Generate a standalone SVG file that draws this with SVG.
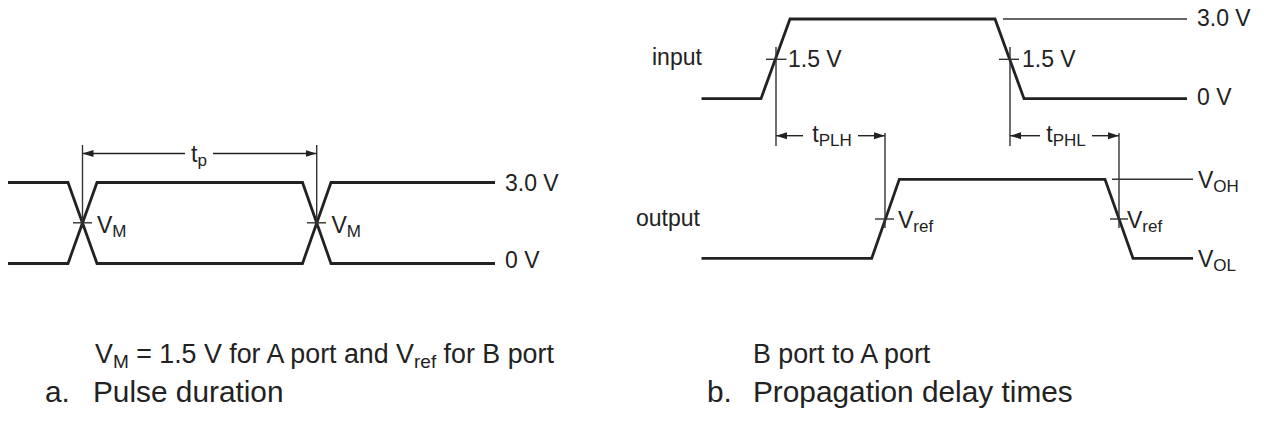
<svg xmlns="http://www.w3.org/2000/svg" width="1264" height="427" viewBox="0 0 1264 427">
<style>
text{font-family:"Liberation Sans",Arial,Helvetica,sans-serif;fill:#222}
.lbl{font-size:23px}
.sub{font-size:17px}
.cap1{font-size:26.8px}
.sub1{font-size:19px}
.cap2{font-size:29.8px}
.wave{fill:none;stroke:#222;stroke-width:2.8;stroke-linejoin:miter}
.thin{fill:none;stroke:#333;stroke-width:1.4}
.arr{fill:none;stroke:#222;stroke-width:1.4;marker-end:url(#ah)}
</style>
<defs>
<marker id="ah" markerWidth="11" markerHeight="8" refX="11" refY="4" orient="auto" markerUnits="userSpaceOnUse">
<path d="M0,0.5 L11,4 L0,7.5 z" fill="#222"/>
</marker>
</defs>
<rect width="1264" height="427" fill="#fff"/>

<g id="connectors">
<line class="arr" x1="185" y1="153.5" x2="82.5" y2="153.5"/>
<line class="arr" x1="213" y1="153.5" x2="316.5" y2="153.5"/>
<line class="arr" x1="803" y1="135.7" x2="776" y2="135.7"/>
<line class="arr" x1="858" y1="135.7" x2="885" y2="135.7"/>
<line class="arr" x1="1040" y1="135.7" x2="1010" y2="135.7"/>
<line class="arr" x1="1092" y1="135.7" x2="1119" y2="135.7"/>
</g>

<g id="pulse-waveform">
<path class="wave" d="M8,182.5 H68 L97,263.5 H302.5 L331,182.5 H495"/>
<path class="wave" d="M8,263.5 H68 L97,182.5 H302.5 L331,263.5 H495"/>
<line class="thin" x1="82.5" y1="145" x2="82.5" y2="228"/>
<line class="thin" x1="73" y1="222.8" x2="92" y2="222.8"/>
<line class="thin" x1="316.7" y1="145" x2="316.7" y2="228"/>
<line class="thin" x1="307" y1="222.8" x2="326" y2="222.8"/>
<text class="lbl" x="199" y="162" text-anchor="middle">t<tspan class="sub" dy="4">p</tspan></text>
<text class="lbl" x="97" y="233">V<tspan class="sub" dy="4">M</tspan></text>
<text class="lbl" x="331.5" y="233">V<tspan class="sub" dy="4">M</tspan></text>
<text class="lbl" x="505" y="191">3.0 V</text>
<text class="lbl" x="505" y="268">0 V</text>
</g>

<g id="input-waveform">
<text class="lbl" x="652" y="65">input</text>
<path class="wave" d="M701.5,98.7 H761 L790,19 H995 L1024,98.7 H1187"/>
<line class="thin" x1="1003" y1="19" x2="1187" y2="19"/>
<line class="thin" x1="776" y1="47" x2="776" y2="146"/>
<line class="thin" x1="766" y1="59.3" x2="786.5" y2="59.3"/>
<line class="thin" x1="1010" y1="47" x2="1010" y2="146"/>
<line class="thin" x1="999" y1="59.3" x2="1019" y2="59.3"/>
<text class="lbl" x="788" y="66.5">1.5 V</text>
<text class="lbl" x="1022" y="66.5">1.5 V</text>
<text class="lbl" x="1197" y="26">3.0 V</text>
<text class="lbl" x="1197" y="105">0 V</text>
</g>

<g id="output-waveform">
<text class="lbl" x="636" y="226">output</text>
<path class="wave" d="M701.5,258.3 H871.7 L899.3,179.3 H1105 L1133,258.3 H1193"/>
<line class="thin" x1="1112" y1="179.3" x2="1193" y2="179.3"/>
<line class="thin" x1="885" y1="133" x2="885" y2="228"/>
<line class="thin" x1="875" y1="219" x2="894" y2="219"/>
<line class="thin" x1="1119" y1="133" x2="1119" y2="228"/>
<line class="thin" x1="1110" y1="219" x2="1128" y2="219"/>
<text class="lbl" x="898" y="228">V<tspan class="sub" dy="4">ref</tspan></text>
<text class="lbl" x="1127" y="228">V<tspan class="sub" dy="4">ref</tspan></text>
<text class="lbl" x="1198" y="188">V<tspan class="sub" dy="4">OH</tspan></text>
<text class="lbl" x="1198" y="267">V<tspan class="sub" dy="4">OL</tspan></text>
</g>

<g id="delay-labels">
<text class="lbl" x="832" y="142" text-anchor="middle">t<tspan class="sub" dy="4">PLH</tspan></text>
<text class="lbl" x="1066" y="142" text-anchor="middle">t<tspan class="sub" dy="4">PHL</tspan></text>
</g>

<g id="captions">
<text class="cap1" x="95" y="363">V<tspan class="sub1" dy="5">M</tspan><tspan dy="-5"> = 1.5 V for A port and V</tspan><tspan class="sub1" dy="5">ref</tspan><tspan dy="-5"> for B port</tspan></text>
<text class="cap2" x="45" y="402">a.</text>
<text class="cap2" x="93" y="402">Pulse duration</text>
<text class="cap1" x="753" y="363">B port to A port</text>
<text class="cap2" x="707" y="402">b.</text>
<text class="cap2" x="753" y="402">Propagation delay times</text>
</g>
</svg>
